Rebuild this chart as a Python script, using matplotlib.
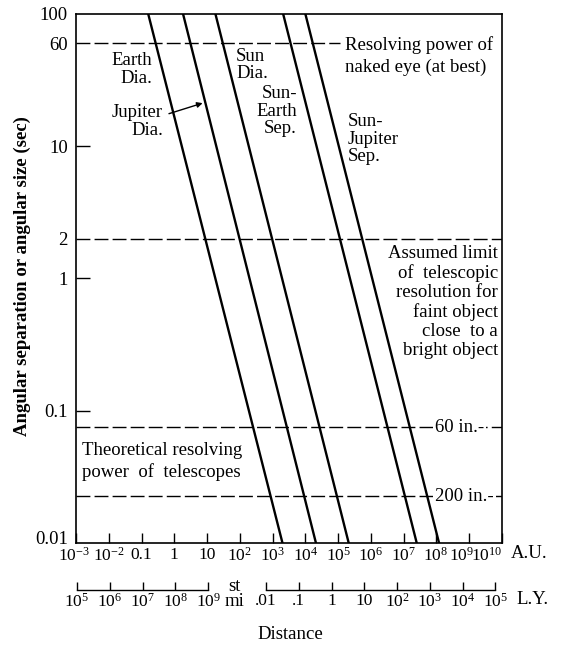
import numpy as np
import matplotlib
matplotlib.use('Agg')
import matplotlib.pyplot as plt
from matplotlib.transforms import ScaledTranslation

plt.rcParams['font.family'] = ['Liberation Serif', 'DejaVu Serif']
plt.rcParams['mathtext.fontset'] = 'custom'
plt.rcParams['mathtext.rm'] = 'Liberation Serif'
plt.rcParams['font.size'] = 13.5

# distance (A.U.) where each line crosses 100 sec and 0.01 sec
objects = ['Earth Dia.', 'Jupiter Dia.', 'Sun Dia.', 'Sun-Earth Sep.', 'Sun-Jupiter Sep.']
dist_at_top = [0.16, 1.85, 18, 2.1e3, 1.0e4]
dist_at_bottom = [2.0e3, 2.1e4, 2.1e5, 2.5e7, 1.2e8]
theta_ends = [100, 0.01]

# horizontal limits (sec)
limit_vals = [60, 2, 0.075, 0.0225]

au_ticks = [1e-3, 1e-2, 0.1, 1, 10, 1e2, 1e3, 1e4, 1e5, 1e6, 1e7, 1e8, 1e9, 1e10]
au_labels = [r'$\mathregular{10^{-3}}$', r'$\mathregular{10^{-2}}$', '0.1', '1', '10',
             r'$\mathregular{10^{2}}$', r'$\mathregular{10^{3}}$', r'$\mathregular{10^{4}}$',
             r'$\mathregular{10^{5}}$', r'$\mathregular{10^{6}}$', r'$\mathregular{10^{7}}$',
             r'$\mathregular{10^{8}}$', r'$\mathregular{10^{9}}$', r'$\mathregular{10^{10}}$']
mi_ticks = [1e5, 1e6, 1e7, 1e8, 1e9]
mi_labels = [r'$\mathregular{10^{%d}}$' % k for k in range(5, 10)]
ly_ticks = [0.01, 0.1, 1, 10, 1e2, 1e3, 1e4, 1e5]
ly_labels = ['.01', '.1', '1', '10', r'$\mathregular{10^{2}}$', r'$\mathregular{10^{3}}$',
             r'$\mathregular{10^{4}}$', r'$\mathregular{10^{5}}$']
y_ticks = [0.01, 0.1, 1, 2, 10, 60, 100]
y_labels = ['0.01', '0.1', '1', '2', '10', '60', '100']

MI_PER_AU = 9.296e7
AU_PER_LY = 63241.0

fig = plt.figure(figsize=(5.61, 6.51), dpi=100)
ax = fig.add_axes([0.1355, 0.1659, 0.7593, 0.8126])
ax.set_xscale('log')
ax.set_yscale('log')
ax.set_xlim(1e-3, 1e10)
ax.set_ylim(0.01, 100)

for i in range(len(objects)):
    ax.plot([dist_at_top[i], dist_at_bottom[i]], theta_ends, color='black', lw=1.7)

dash = (0, (10, 3))
ax.axhline(limit_vals[0], xmax=0.62, color='black', lw=1.0, ls=dash)
for v in limit_vals[1:]:
    ax.axhline(v, color='black', lw=1.0, ls=dash)

ax.minorticks_off()
ax.set_xticks(au_ticks, au_labels)
ax.set_yticks(y_ticks, y_labels)
ax.tick_params(axis='x', direction='in', length=7, width=1, pad=3, labelsize=12.5)
ax.tick_params(axis='y', direction='in', length=10, width=1, pad=6)
# crowded labels at the right end are nudged left, as in the original
for lab, dx in zip(ax.get_xticklabels(), [-2, 0, 0, 0, 0, 0, 0, 0, 0, 0, 0, -1, -8, -15]):
    lab.set_transform(lab.get_transform() + ScaledTranslation(dx / 100, 0, fig.dpi_scale_trans))
ylab0 = ax.get_yticklabels()[0]
ylab0.set_transform(ylab0.get_transform() + ScaledTranslation(0, 5 / 100, fig.dpi_scale_trans))
for t, v in zip(ax.yaxis.get_major_ticks(), y_ticks):
    if v in (2, 60, 100, 0.01):
        t.tick1line.set_visible(False)
for s in ax.spines.values():
    s.set_linewidth(1.2)

def au2mi(x):
    return x * MI_PER_AU

def mi2au(x):
    return x / MI_PER_AU

def au2ly(x):
    return x / AU_PER_LY

def ly2au(x):
    return x * AU_PER_LY

for fwd, inv, ticks, labels in [(au2mi, mi2au, mi_ticks, mi_labels),
                                (au2ly, ly2au, ly_ticks, ly_labels)]:
    sec = ax.secondary_xaxis(-0.089, functions=(fwd, inv))
    sec.minorticks_off()
    sec.set_xticks(ticks, labels)
    sec.tick_params(direction='in', length=6, width=1, pad=2, labelsize=12.5)
    sec.spines['bottom'].set_bounds(ticks[0], ticks[-1])
    sec.spines['bottom'].set_linewidth(1.0)

tf = ax.transAxes
ax.text(0.178, 0.928, 'Earth\nDia.', transform=tf, ha='right', va='top', linespacing=1.05)
ax.text(0.204, 0.830, 'Jupiter\nDia.', transform=tf, ha='right', va='top', linespacing=1.05)
ax.annotate('', xy=(8.8, 21.5), xytext=(0.212, 0.81), textcoords='axes fraction',
            arrowprops=dict(arrowstyle='-|>', color='black', lw=1, mutation_scale=8))
ax.text(0.376, 0.936, 'Sun\nDia.', transform=tf, ha='left', va='top', linespacing=1.0)
ax.text(0.519, 0.866, 'Sun-\nEarth\nSep.', transform=tf, ha='right', va='top', linespacing=1.05)
ax.text(0.638, 0.813, 'Sun-\nJupiter\nSep.', transform=tf, ha='left', va='top', linespacing=1.05)
ax.text(0.631, 0.958, 'Resolving power of\nnaked eye (at best)', transform=tf, ha='left',
        va='top', linespacing=1.35)
ax.text(0.991, 0.563, 'Assumed limit\nof  telescopic\nresolution for\nfaint object\nclose  to a\nbright object',
        transform=tf, ha='right', va='top', linespacing=1.15)
ax.text(0.014, 0.191, 'Theoretical resolving\npower  of  telescopes', transform=tf,
        ha='left', va='top', linespacing=1.3)
for v, lab in [(0.075, '60 in.-'), (0.0225, '200 in.-')]:
    ax.text(0.843, v, lab, transform=ax.get_yaxis_transform(), ha='left', va='center',
            bbox=dict(facecolor='white', edgecolor='none', pad=1.5))

ax.text(1.02, -0.019, 'A.U.', transform=tf, ha='left', va='center')
ax.text(1.035, -0.107, 'L.Y.', transform=tf, ha='left', va='center')
ax.text(0.373, -0.097, 'st\nmi', transform=tf, ha='center', va='center', linespacing=0.85)
ax.set_ylabel('Angular separation or angular size (sec)', fontsize=13.5, fontweight='bold')
ax.yaxis.set_label_coords(-0.105, 0.505)
fig.text(0.517, 0.026, 'Distance', ha='center', va='center', fontsize=13.5)

fig.savefig('out.png', dpi=100)
